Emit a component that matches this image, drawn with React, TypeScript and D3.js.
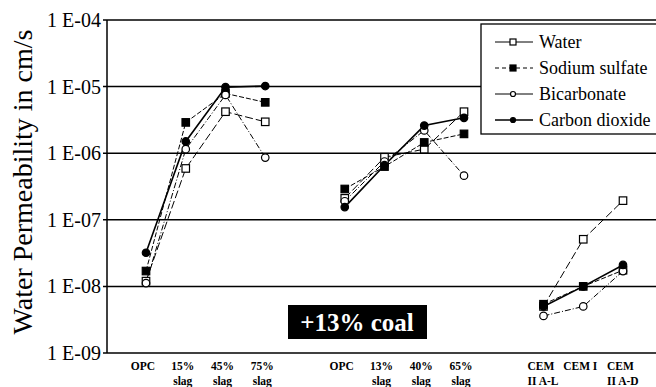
import React from 'react';
import * as d3 from 'd3';

const categories = ['OPC', '15% slag', '45% slag', '75% slag', 'OPC', '13% slag', '40% slag', '65% slag', 'CEM II A-L', 'CEM I', 'CEM II A-D'];
const groups = [0, 0, 0, 0, 1, 1, 1, 1, 2, 2, 2];
// slot keys incl. the empty slots between the groups
const slots = ['c0', 'c1', 'c2', 'c3', 'gapA', 'c4', 'c5', 'c6', 'c7', 'gapB', 'c8', 'c9', 'c10'];
const xLabels = [['OPC'], ['15%', 'slag'], ['45%', 'slag'], ['75%', 'slag'], ['OPC'], ['13%', 'slag'], ['40%', 'slag'], ['65%', 'slag'], ['CEM', 'II A-L'], ['CEM I'], ['CEM', 'II A-D']];

const water = [1.2e-8, 5.9e-7, 4.2e-6, 2.96e-6, 2.1e-7, 8.7e-7, 1.15e-6, 4.2e-6, 5.0e-9, 5.1e-8, 1.94e-7];
const sodiumSulfate = [1.7e-8, 2.9e-6, 7.9e-6, 5.8e-6, 2.9e-7, 6.3e-7, 1.45e-6, 1.95e-6, 5.4e-9, 1.0e-8, 1.75e-8];
const bicarbonate = [1.12e-8, 1.15e-6, 7.5e-6, 8.6e-7, 1.9e-7, 7.5e-7, 2.2e-6, 4.6e-7, 3.6e-9, 5.0e-9, 1.7e-8];
const carbonDioxide = [3.2e-8, 1.5e-6, 9.8e-6, 1.02e-5, 1.55e-7, 6.6e-7, 2.6e-6, 3.4e-6, 5.0e-9, 1.0e-8, 2.1e-8];

const yTicks = [1e-4, 1e-5, 1e-6, 1e-7, 1e-8, 1e-9];
const yTickLabels = ['1 E-04', '1 E-05', '1 E-06', '1 E-07', '1 E-08', '1 E-09'];

const series = [
  { name: 'Water', values: water, marker: 'square', filled: false, dash: '8,3', legendDash: null, width: 1 },
  { name: 'Sodium sulfate', values: sodiumSulfate, marker: 'square', filled: true, dash: '5,2', legendDash: '4,3', width: 1 },
  { name: 'Bicarbonate', values: bicarbonate, marker: 'circle', filled: false, dash: '6,2,1,2', legendDash: null, width: 1 },
  { name: 'Carbon dioxide', values: carbonDioxide, marker: 'circle', filled: true, dash: null, legendDash: null, width: 1.6 },
];

const W = 656;
const H = 387;
const margin = { top: 20, right: 0, bottom: 34, left: 107 };
const serif = { fontFamily: '"Liberation Serif"' };

const Marker = ({ type, filled, x, y, size }) => {
  if (type === 'square') {
    return <rect x={x - size / 2} y={y - size / 2} width={size} height={size}
      fill={filled ? '#000' : '#fff'} stroke="#000" strokeWidth={1.2} />;
  }
  return <circle cx={x} cy={y} r={size / 2} fill={filled ? '#000' : '#fff'} stroke="#000" strokeWidth={1.2} />;
};

export default function App() {
  const x = d3.scalePoint().domain(slots).range([146, 623]).padding(0);
  const y = d3.scaleLog().domain([1e-9, 1e-4]).range([H - margin.bottom, margin.top]);
  const catKeys = slots.filter(s => s.startsWith('c'));
  const catX = (i) => x(catKeys[i]);

  const line = d3.line().x(d => d[0]).y(d => d[1]);

  return (
    <svg width={W} height={H} style={{ position: 'absolute', left: 0, top: 0, background: '#fff' }}>
      {/* grid lines */}
      {yTicks.map((t, i) => (
        <g key={i}>
          <line x1={margin.left - 4} x2={W} y1={y(t)} y2={y(t)} stroke="#000" strokeWidth={1.5} />
          <text x={101} y={y(t) + 7} textAnchor="end" fontSize={20} style={serif}>{yTickLabels[i]}</text>
        </g>
      ))}
      <line x1={margin.left} x2={margin.left} y1={margin.top} y2={H - margin.bottom} stroke="#000" strokeWidth={1.5} />

      <text transform={`translate(32,182) rotate(-90)`} textAnchor="middle" fontSize={28} style={serif}>
        Water Permeability in cm/s
      </text>

      {/* x labels; two-line CEM labels are left aligned */}
      {xLabels.map((lines, i) => {
        const twoLineCem = lines.length > 1 && lines[0] === 'CEM';
        return (
          <text key={i} textAnchor={twoLineCem ? 'start' : 'middle'} fontSize={11.5} fontWeight="bold" style={serif}>
            {lines.map((l, j) => (
              <tspan key={j} x={catX(i) + (twoLineCem ? -16 : -3)} y={370 + j * 15}>{l}</tspan>
            ))}
          </text>
        );
      })}

      {/* series lines, broken between groups */}
      {series.map(s => (
        d3.range(3).map(g => {
          const pts = s.values.map((v, i) => [catX(i), y(v), groups[i]]).filter(p => p[2] === g);
          return <path key={s.name + g} d={line(pts)} fill="none" stroke="#000"
            strokeWidth={s.width} strokeDasharray={s.dash || undefined} />;
        })
      ))}
      {series.map(s => s.values.map((v, i) => (
        <Marker key={s.name + i} type={s.marker} filled={s.filled} x={catX(i)} y={y(v)} size={7.5} />
      )))}

      {/* +13% coal label */}
      <rect x={288} y={305} width={139} height={34} fill="#000" />
      <text x={357} y={331} textAnchor="middle" fontSize={25} fontWeight="bold" fill="#fff" style={serif}>+13% coal</text>

      {/* legend */}
      <rect x={481} y={24} width={190} height={110} fill="#fff" stroke="#000" strokeWidth={1.3} />
      {series.map((s, i) => {
        const ly = 42 + i * 26;
        return (
          <g key={s.name}>
            <line x1={495} x2={533} y1={ly} y2={ly} stroke="#000" strokeWidth={s.width}
              strokeDasharray={s.legendDash || undefined} />
            <Marker type={s.marker} filled={s.filled} x={513} y={ly} size={s.marker === 'square' ? 6 : 5} />
            <text x={539} y={ly + 6} fontSize={18} style={serif}>{s.name}</text>
          </g>
        );
      })}
    </svg>
  );
}
